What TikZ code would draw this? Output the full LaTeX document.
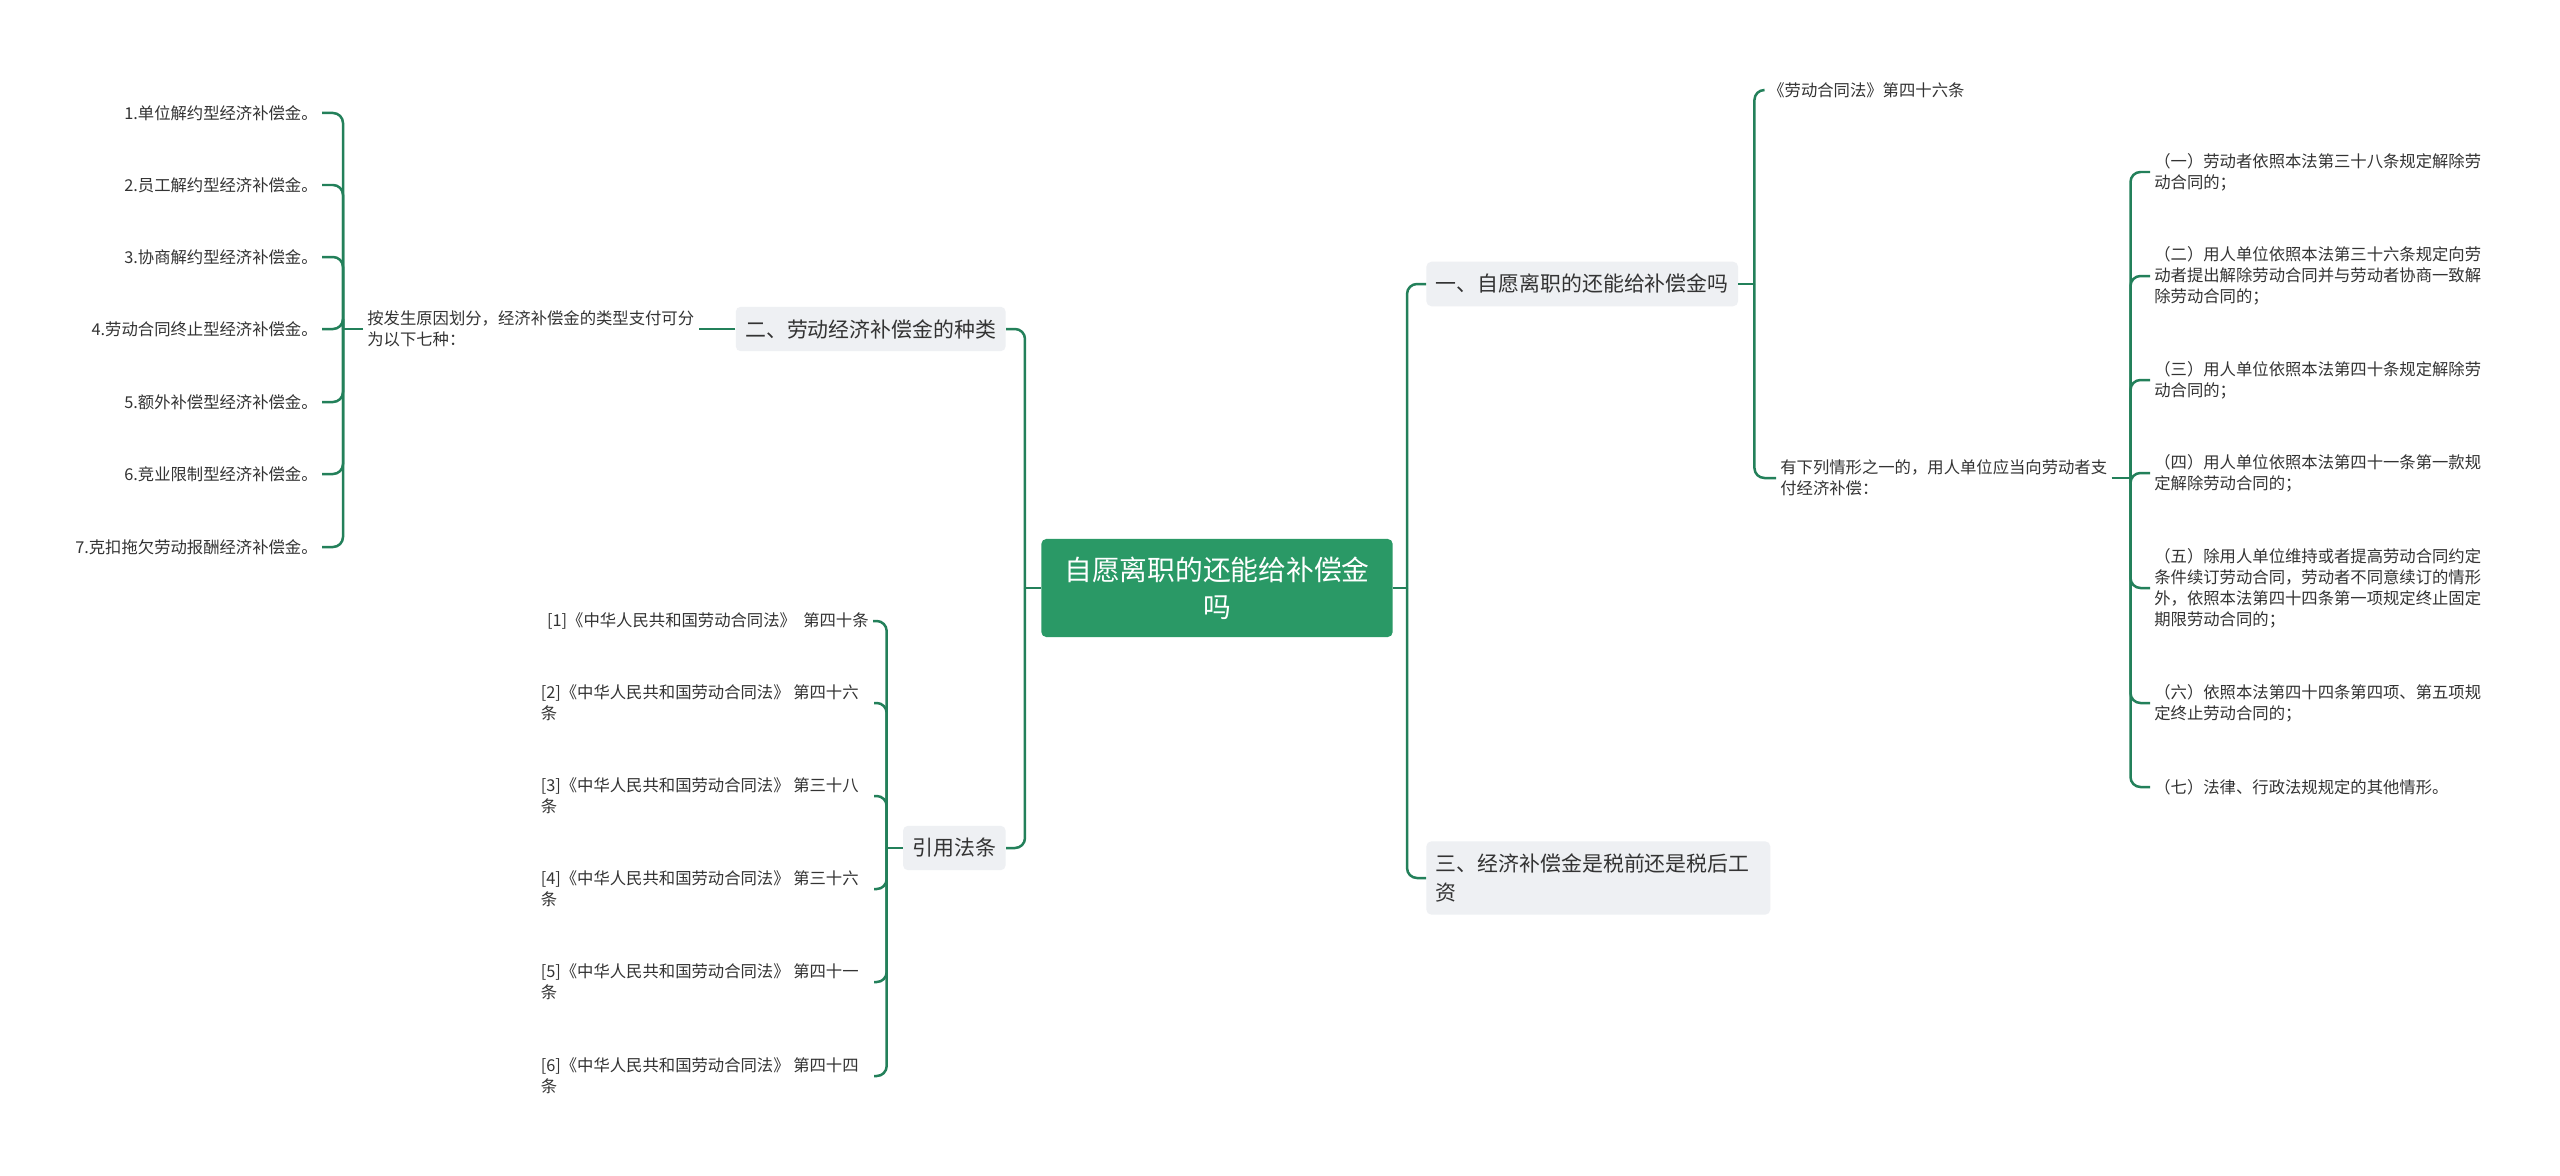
\documentclass[tikz,border=0pt]{standalone}
\usepackage{fontspec}
\setmainfont{Noto Sans CJK SC}

\definecolor{rootgreen}{HTML}{2A9966}
\definecolor{linegreen}{HTML}{23805A}
\definecolor{topicgray}{HTML}{EEF0F3}
\definecolor{inkgray}{HTML}{333333}

\tikzset{
  conn/.style={draw=linegreen, line width=0.05cm, rounded corners=0.2cm},
  rootbox/.style={fill=rootgreen, text=white, rounded corners=0.1cm, inner xsep=0.46cm, inner ysep=0.35cm,
    align=center, font=\fontsize{15.8pt}{21.3pt}\selectfont},
  topicbox/.style={fill=topicgray, text=inkgray, rounded corners=0.1cm, inner xsep=0.19cm, inner ysep=0.25cm,
    align=left, font=\fontsize{11.9pt}{16.4pt}\selectfont},
  leaf/.style={text=inkgray, inner xsep=0.08cm, inner ysep=0.02cm, align=left,
    font=\fontsize{9.3pt}{11.9pt}\selectfont}
}

\begin{document}
\begin{tikzpicture}[x=0.02cm, y=-0.02cm]
                % Canvas
                \fill[white] (0,0) rectangle (2560,1176);
                \useasboundingbox (0,0) rectangle (2560,1176);
                % Root
                \node[rootbox] (root) at (1217,588) {自愿离职的还能给补偿金\\吗};
                \path (root.east) ++(14,0) coordinate (rspine);
                \path (root.west) ++(-16,0) coordinate (lspine);
                % Main topics
                \node[topicbox, anchor=west] (one) at (1426,284) {一、自愿离职的还能给补偿金吗};
                \node[topicbox, anchor=west, text width=6.5cm] (three) at (1426,878) {三、经济补偿金是税前还是税后工\\资};
                \node[topicbox, anchor=east] (two) at (1006,329) {二、劳动经济补偿金的种类};
                \node[topicbox, anchor=east] (laws) at (1006,848) {引用法条};
                \draw[conn] (root.east) -- (rspine);
                \draw[conn] (root.west) -- (lspine);
                \foreach \t in {one, three}
                    \draw[conn] (rspine) |- (\t.west);
                \foreach \t in {two, laws}
                    \draw[conn] (lspine) |- (\t.east);
                % Topic one
                \node[leaf, anchor=west] (art) at (1764,90) {《劳动合同法》第四十六条};
                \node[leaf, anchor=west] (cases) at (1776,478) {有下列情形之一的，用人单位应当向劳动者支\\付经济补偿：};
                \path (one.east) ++(16,0) coordinate (onespine);
                \draw[conn] (one.east) -- (onespine);
                \foreach \t in {art, cases}
                    \draw[conn] (onespine) |- (\t.west);
                % Cases listed in article 46
                \path (cases.east) ++(19,0) coordinate (casespine);
                \draw[conn] (cases.east) -- (casespine);
                \foreach \n/\y/\txt in {
                    1/172/{（一）劳动者依照本法第三十八条规定解除劳\\动合同的；},
                    2/276/{（二）用人单位依照本法第三十六条规定向劳\\动者提出解除劳动合同并与劳动者协商一致解\\除劳动合同的；},
                    3/380/{（三）用人单位依照本法第四十条规定解除劳\\动合同的；},
                    4/473/{（四）用人单位依照本法第四十一条第一款规\\定解除劳动合同的；},
                    5/588/{（五）除用人单位维持或者提高劳动合同约定\\条件续订劳动合同，劳动者不同意续订的情形\\外，依照本法第四十四条第一项规定终止固定\\期限劳动合同的；},
                    6/703/{（六）依照本法第四十四条第四项、第五项规\\定终止劳动合同的；},
                    7/787/{（七）法律、行政法规规定的其他情形。}}
                {
                    \node[leaf, anchor=west] (case\n) at (2150,\y) {\txt};
                    \draw[conn] (casespine) |- (case\n.west);
                }
                % Topic two
                \node[leaf, anchor=west] (kinds) at (363,329) {按发生原因划分，经济补偿金的类型支付可分\\为以下七种：};
                \draw[conn] (two.west) -- (kinds.east);
                \path (kinds.west) ++(-20,0) coordinate (kindspine);
                \draw[conn] (kinds.west) -- (kindspine);
                \foreach \n/\y/\txt in {1/113/1.单位解约型经济补偿金。, 2/185/2.员工解约型经济补偿金。,
                    3/257/3.协商解约型经济补偿金。, 4/329/4.劳动合同终止型经济补偿金。,
                    5/402/5.额外补偿型经济补偿金。, 6/474/6.竞业限制型经济补偿金。,
                    7/547/7.克扣拖欠劳动报酬经济补偿金。}
                {
                    \node[leaf, anchor=east] (kind\n) at (322,\y) {\txt};
                    \draw[conn] (kindspine) |- (kind\n.east);
                }
                % Cited articles
                \path (laws.west) ++(-16,0) coordinate (lawspine);
                \draw[conn] (laws.west) -- (lawspine);
                \node[leaf, anchor=east] (law1) at (873,621) {[1]《中华人民共和国劳动合同法》\ \ 第四十条};
                \draw[conn] (lawspine) |- (law1.east);
                \foreach \n/\y/\art in {2/703/第四十六, 3/796/第三十八, 4/889/第三十六, 5/982/第四十一, 6/1076/第四十四}
                {
                    \node[leaf, anchor=east, inner xsep=0.3cm] (law\n) at (874,\y) {[\n]《中华人民共和国劳动合同法》 \art\\条};
                    \draw[conn] (lawspine) |- (law\n.east);
                }
            \end{tikzpicture}
\end{document}
